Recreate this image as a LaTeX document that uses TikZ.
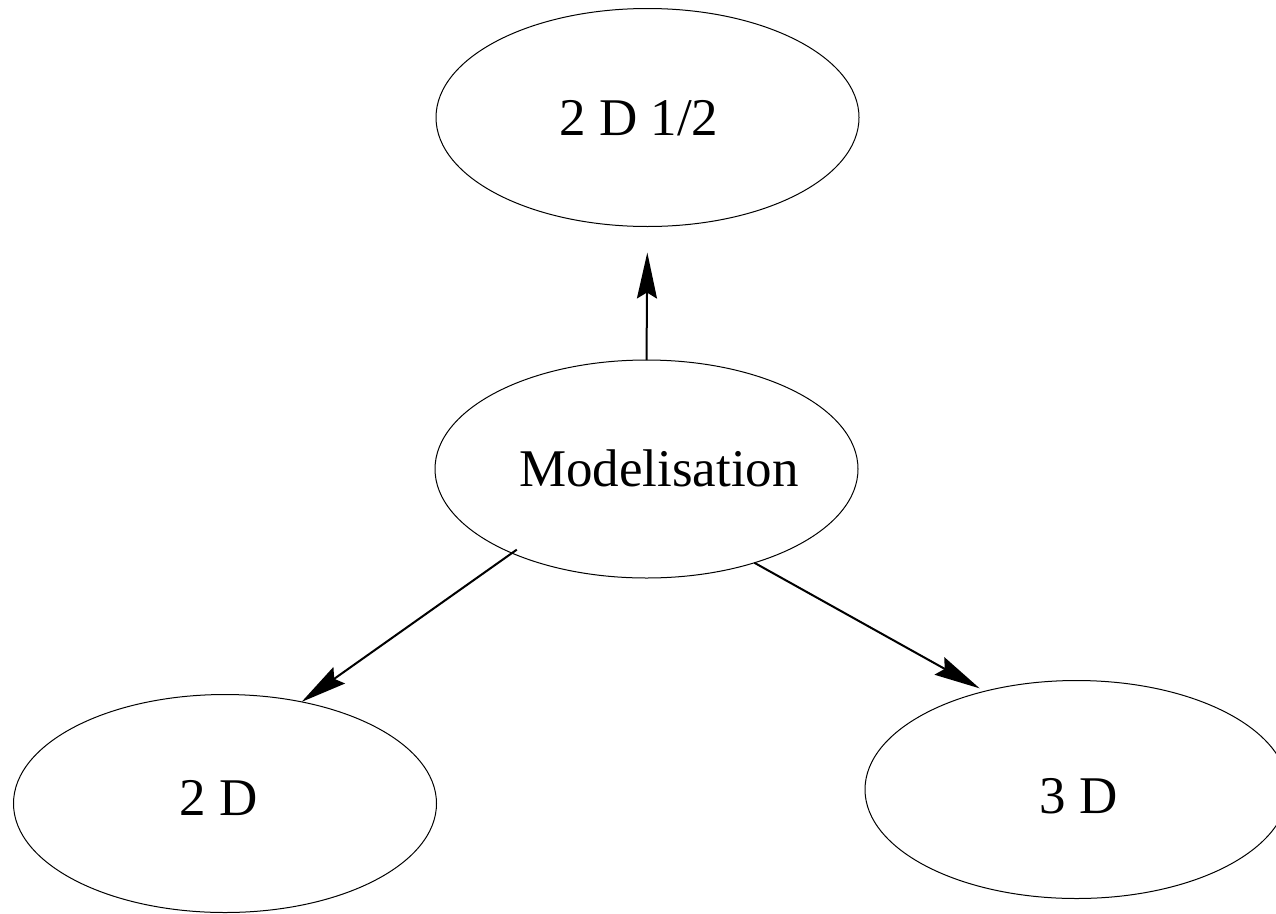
\documentclass[tikz,border=0pt]{standalone}
\usepackage{fontspec}
\setmainfont{Liberation Serif}
\usetikzlibrary{shapes.geometric,arrows.meta}
\begin{document}
\begin{tikzpicture}[x=1pt,y=-1pt,
  oval/.style={ellipse, draw, line width=1pt, minimum width=423pt, minimum height=218pt,
    inner sep=0pt, outer sep=0pt, text height=35pt, text depth=0pt,
    font=\fontsize{53}{60}\selectfont},
  link/.style={line width=2pt, -{Stealth[length=46pt,width=20pt,inset=6pt]}}]
\clip (0,0) rectangle (1276,913);
\node[oval] (top) at (647.5,117.5) {\makebox[0pt]{2 D 1/2\hspace*{17pt}}};
\node[oval] (mid) at (646.5,469) {\makebox[0pt]{\hspace*{25pt}Modelisation}};
\node[oval, text depth=12pt] (left) at (225,803.5) {\makebox[0pt]{2 D\hspace*{13pt}}};
\node[oval, text height=48pt] (right) at (1076.5,789.5) {\makebox[0pt]{\hspace*{4pt}3 D}};
\draw[link, shorten >=26pt] (mid.north) -- (top.south);
\draw[link, shorten <=-6pt] (mid.212.4) -- (left.53.8);
\draw[link, shorten >=6pt] (mid.319.4) -- (right.133.3);
\end{tikzpicture}
\end{document}
